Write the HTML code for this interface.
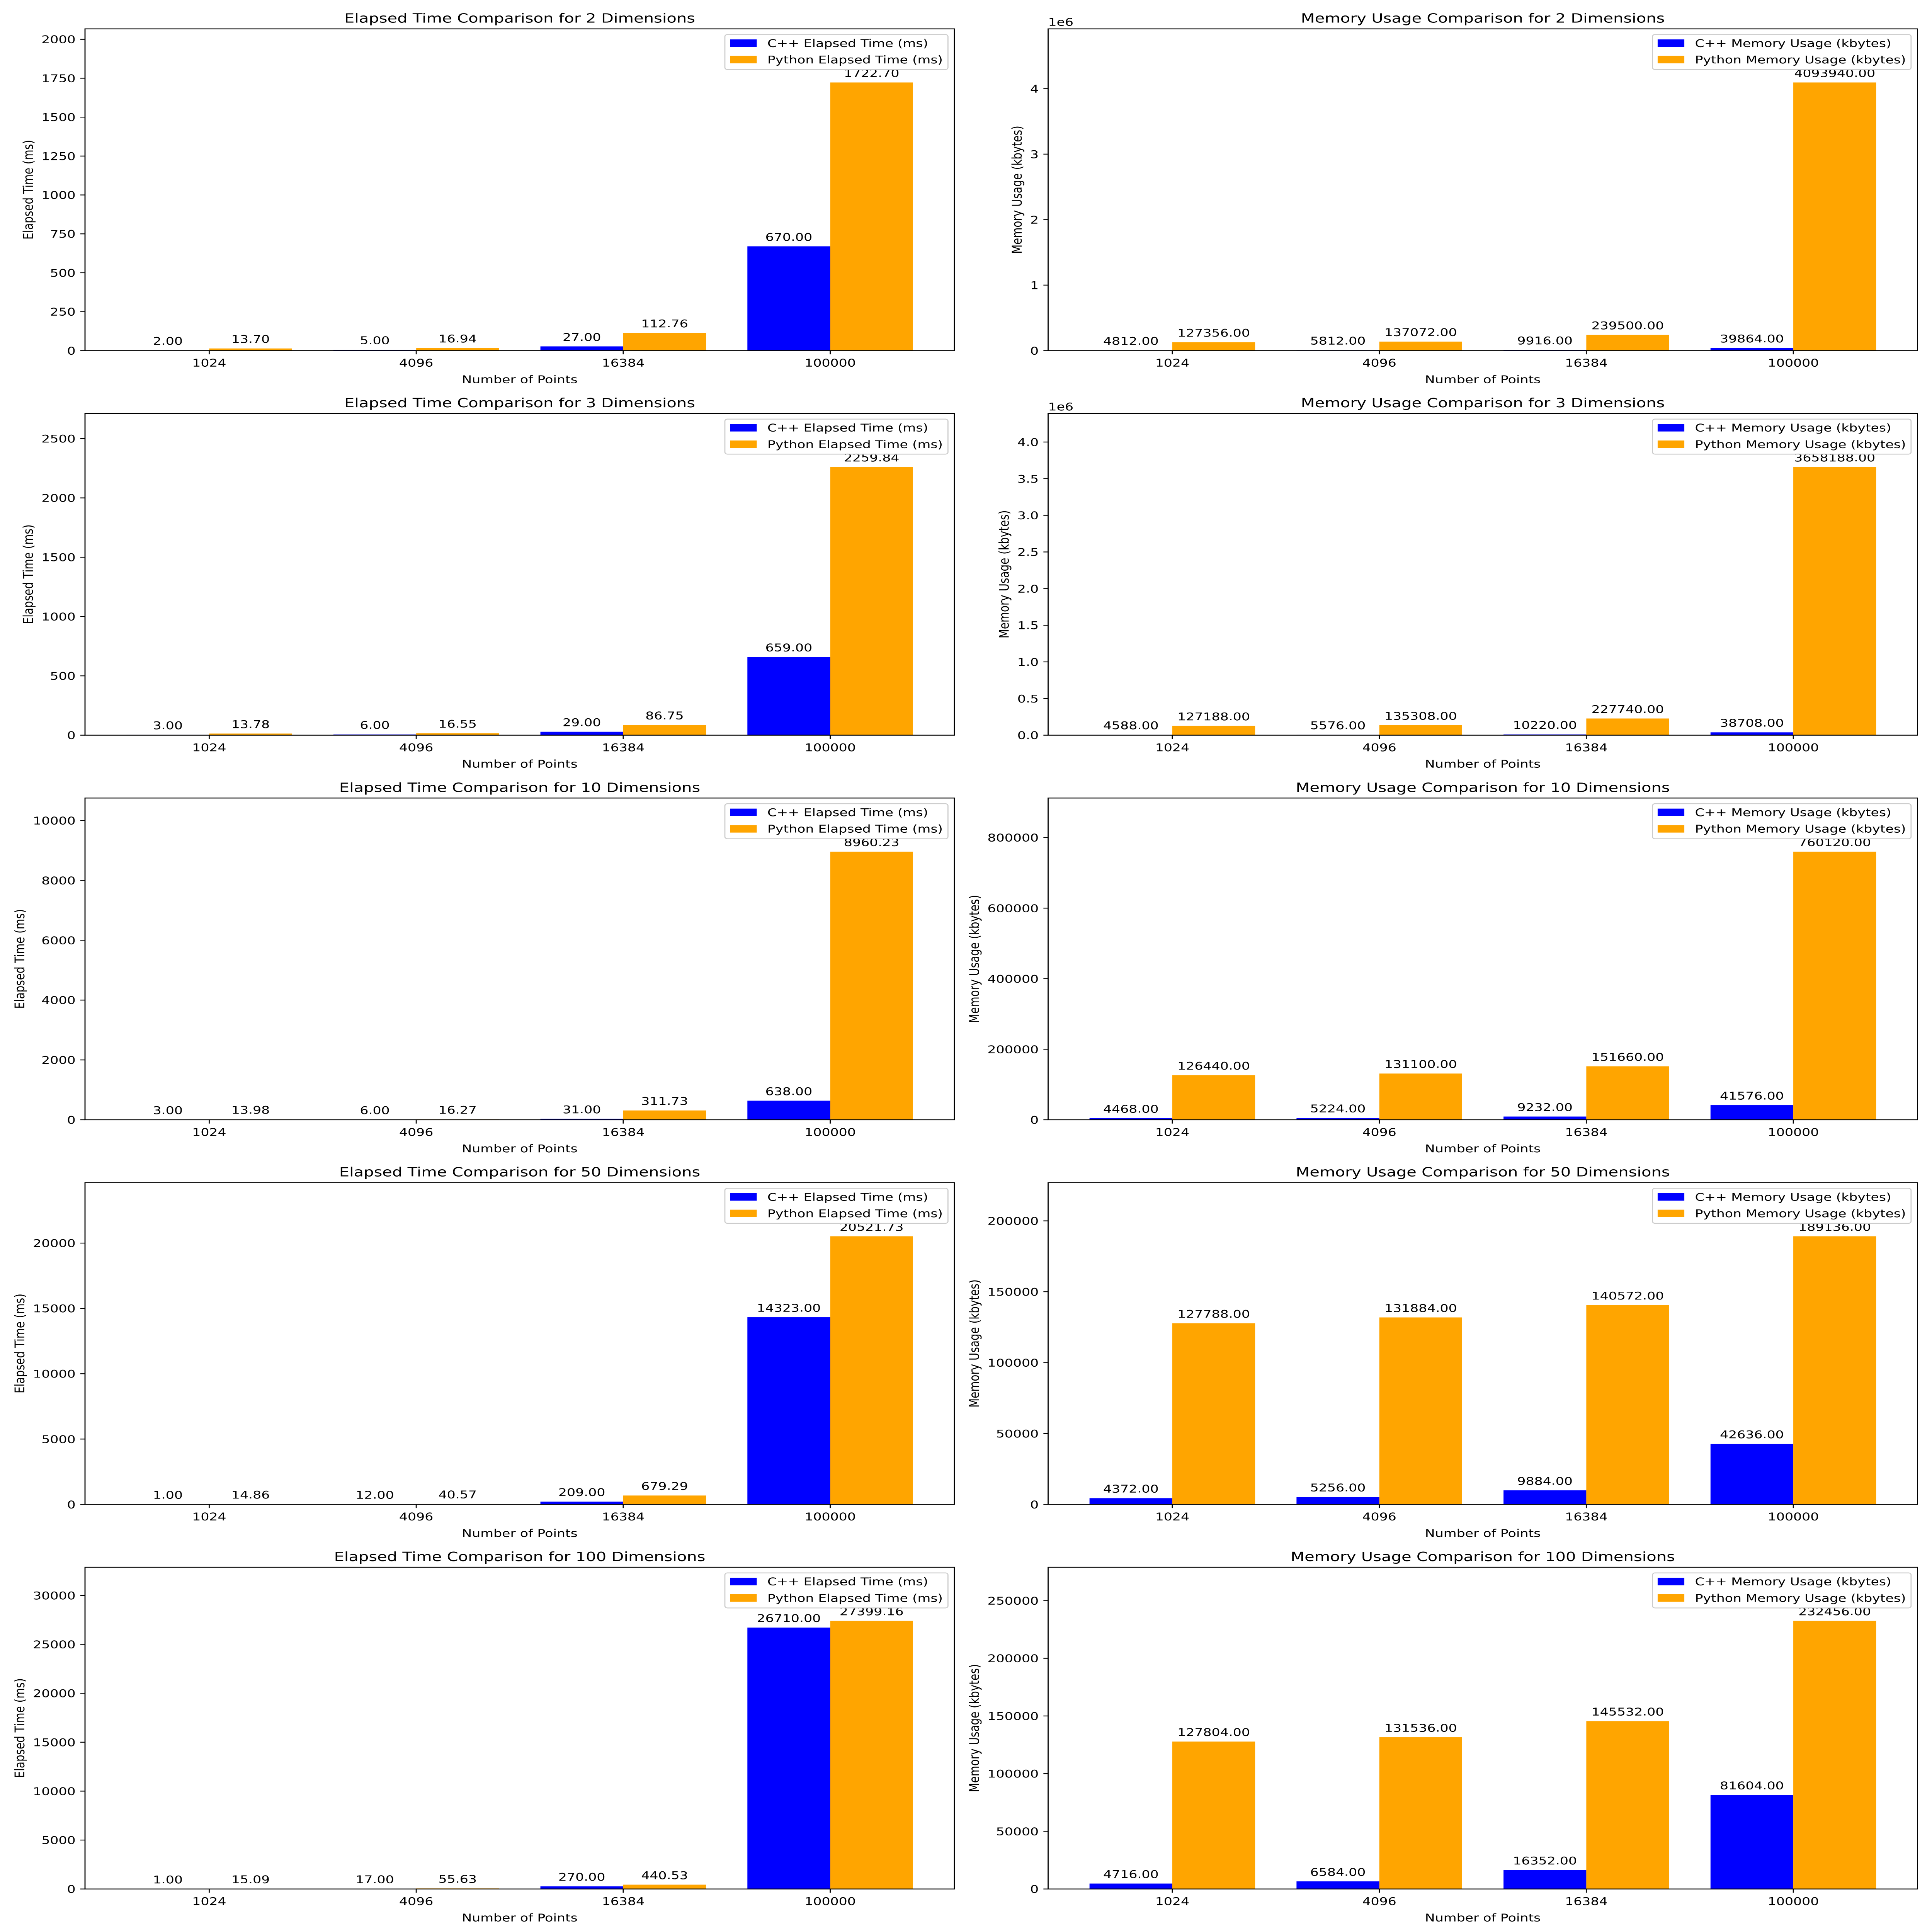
<!DOCTYPE html>
<html><head><meta charset="utf-8"><style>
html,body{margin:0;padding:0;background:#fff;width:100vw;height:100vh;overflow:hidden;}
svg{display:block;width:100vw;height:100vh;font-family:"DejaVu Sans","Liberation Sans",sans-serif;}
</style></head><body>
<svg id="fig" viewBox="0 0 6000 7500" preserveAspectRatio="none" xmlns="http://www.w3.org/2000/svg"></svg>
<script>
const categories = ["1024","4096","16384","100000"];
const dims = [2,3,10,50,100];
const cppTime = [[2,5,27,670],[3,6,29,659],[3,6,31,638],[1,12,209,14323],[1,17,270,26710]];
const pyTime = [[13.70,16.94,112.76,1722.70],[13.78,16.55,86.75,2259.84],[13.98,16.27,311.73,8960.23],[14.86,40.57,679.29,20521.73],[15.09,55.63,440.53,27399.16]];
const cppMem = [[4812,5812,9916,39864],[4588,5576,10220,38708],[4468,5224,9232,41576],[4372,5256,9884,42636],[4716,6584,16352,81604]];
const pyMem = [[127356,137072,239500,4093940],[127188,135308,227740,3658188],[126440,131100,151660,760120],[127788,131884,140572,189136],[127804,131536,145532,232456]];
const timeTicks = [[0,250,500,750,1000,1250,1500,1750,2000],[0,500,1000,1500,2000,2500],[0,2000,4000,6000,8000,10000],[0,5000,10000,15000,20000],[0,5000,10000,15000,20000,25000,30000]];
const memTicks = [[0,1e6,2e6,3e6,4e6],[0,0.5e6,1e6,1.5e6,2e6,2.5e6,3e6,3.5e6,4e6],[0,200000,400000,600000,800000],[0,50000,100000,150000,200000],[0,50000,100000,150000,200000,250000]];
const memTickLabels = [["0","1","2","3","4"],["0.0","0.5","1.0","1.5","2.0","2.5","3.0","3.5","4.0"],null,null,null];
const memOffset = ["1e6","1e6","","",""];

const NS="http://www.w3.org/2000/svg";
const svg=document.getElementById('fig');
function mk(tag,attrs,parent){const e=document.createElementNS(NS,tag);for(const k in attrs)e.setAttribute(k,attrs[k]);(parent||svg).appendChild(e);return e;}
const FS=41.7, LW=3.33, TL=14.6;

function panel(row, left, title, ylabel, cpp, py, ticks, tlabels, offset, names, kind){
  const x0=left, x1=left+2700, top=112+row*1493, h=1249, bot=top+h;
  const g=mk('g',{});
  
  
  const ymax=Math.max(...py,...cpp)*1.2;
  const X=v=>x0+(v+0.6)/4.2*2700;
  const Y=v=>bot-v/ymax*h;
  for(let i=0;i<categories.length;i++){
    const b1=mk('rect',{x:X(i-0.4),y:Y(cpp[i]),width:X(0.4)-X(0),height:bot-Y(cpp[i]),fill:'#0000ff'},g);
    
    
    const b2=mk('rect',{x:X(i),y:Y(py[i]),width:X(0.4)-X(0),height:bot-Y(py[i]),fill:'#ffa500'},g);
    
    
    const l1=mk('text',{x:X(i-0.2),y:Y(cpp[i])-22,'font-size':FS,'text-anchor':'middle'},g);
    l1.textContent=cpp[i].toFixed(2);
    
    
    const l2=mk('text',{x:X(i+0.2),y:Y(py[i])-22,'font-size':FS,'text-anchor':'middle'},g);
    l2.textContent=py[i].toFixed(2);
    
    
  }
  const fr=mk('rect',{x:x0,y:top,width:2700,height:h,fill:'none',stroke:'#000','stroke-width':LW},g);
  
  
  for(let i=0;i<categories.length;i++){
    mk('line',{x1:X(i),x2:X(i),y1:bot,y2:bot+TL,stroke:'#000','stroke-width':LW},g);
    const t=mk('text',{x:X(i),y:bot+62,'font-size':FS,'text-anchor':'middle'},g);
    t.textContent=categories[i];
    
    
  }
  let maxw=0;
  for(let j=0;j<ticks.length;j++){
    const y=Y(ticks[j]);
    mk('line',{x1:x0-TL,x2:x0,y1:y,y2:y,stroke:'#000','stroke-width':LW},g);
    const lab=tlabels?tlabels[j]:String(ticks[j]);
    const t=mk('text',{x:x0-TL-14.6,y:y+15,'font-size':FS,'text-anchor':'end'},g);
    t.textContent=lab;
    
    
    let w=0;for(const c of lab)w+=(c==='.')?13.2:26.5;
    maxw=Math.max(maxw,w);
  }
  if(offset){
    const o=mk('text',{x:x0,y:top-12,'font-size':FS},g);
    o.textContent=offset;
    
    
  }
  const yl=x0-TL-14.6-maxw-16.7-10;
  const ylt=mk('text',{x:yl,y:top+h/2,'font-size':FS,'text-anchor':'middle',transform:`rotate(-90 ${yl} ${top+h/2})`},g);
  ylt.textContent=ylabel;
  
  
  const xl=mk('text',{x:(x0+x1)/2,y:bot+126,'font-size':FS,'text-anchor':'middle'},g);
  xl.textContent='Number of Points';
  
  
  const tt=mk('text',{x:(x0+x1)/2,y:top-24,'font-size':50,'text-anchor':'middle'},g);
  tt.textContent=title;
  
  
  const lg=mk('g',{},g);
  
  
  const box=mk('rect',{x:0,y:top+22,width:10,height:136,rx:8,fill:'#fff','fill-opacity':0.8,stroke:'#cccccc','stroke-width':LW},lg);
  const texts=[];
  const cols=['#0000ff','#ffa500'];
  const patches=[];
  for(let k=0;k<2;k++){
    const p=mk('rect',{x:0,y:top+41+k*64,width:83,height:29,fill:cols[k]},lg);
    
    
    patches.push(p);
    const t=mk('text',{x:0,y:top+70+k*64,'font-size':FS},lg);
    t.textContent=names[k];
    
    
    texts.push(t);
  }
  let tw=0;texts.forEach(t=>{tw=Math.max(tw,t.getComputedTextLength());});
  const bw=16+83+33+tw+16;
  const bx=x1-20-bw;
  box.setAttribute('x',bx);box.setAttribute('width',bw);
  patches.forEach(p=>p.setAttribute('x',bx+16));
  texts.forEach(t=>t.setAttribute('x',bx+16+83+33));
}
for(let r=0;r<5;r++){
  panel(r,264,`Elapsed Time Comparison for ${dims[r]} Dimensions`,'Elapsed Time (ms)',cppTime[r],pyTime[r],timeTicks[r],null,'',['C++ Elapsed Time (ms)','Python Elapsed Time (ms)'],'elapsed');
  panel(r,3255,`Memory Usage Comparison for ${dims[r]} Dimensions`,'Memory Usage (kbytes)',cppMem[r],pyMem[r],memTicks[r],memTickLabels[r],memOffset[r],['C++ Memory Usage (kbytes)','Python Memory Usage (kbytes)'],'memory');
}
</script>
</body></html>
